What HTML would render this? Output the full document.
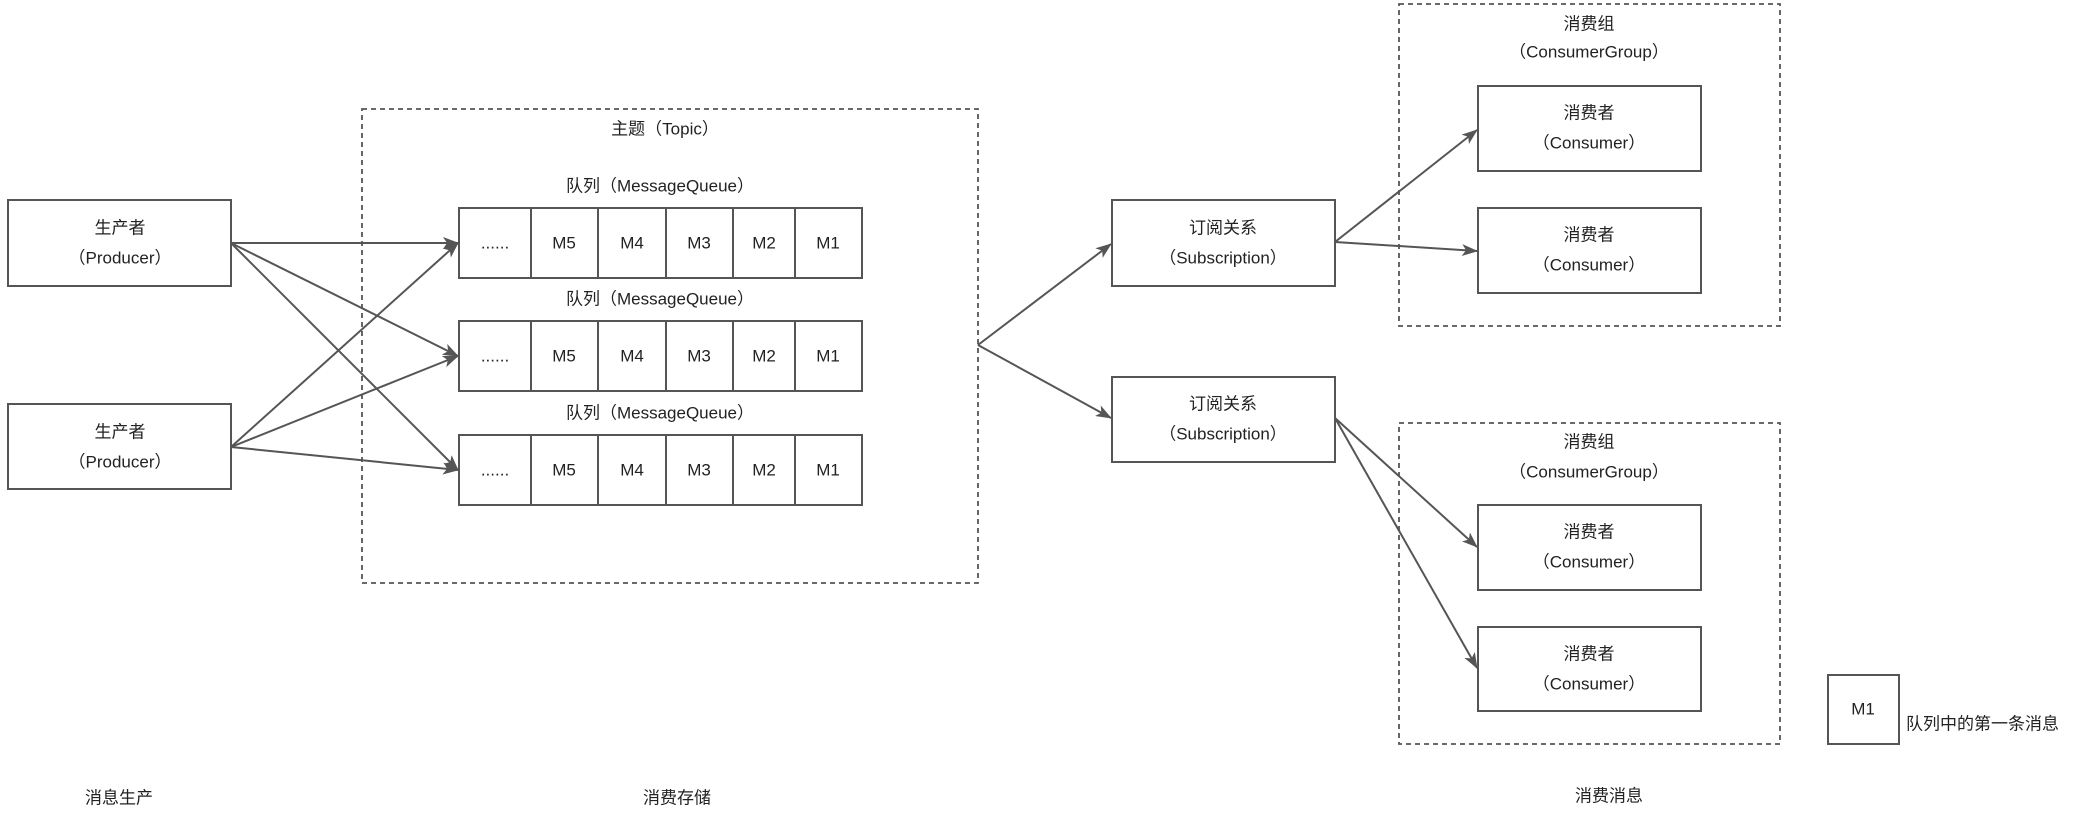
<!DOCTYPE html>
<html><head><meta charset="utf-8"><style>
html,body{margin:0;padding:0;background:#fff;}
svg{display:block;}
text{font-family:"Liberation Sans","Noto Sans CJK SC",sans-serif;font-size:17px;fill:#222;text-anchor:middle;dominant-baseline:central;}
.b{fill:#fff;stroke:#555;stroke-width:2;}
.d{fill:none;stroke:#555;stroke-width:1.8;stroke-dasharray:5,4;}
.l{stroke:#555;stroke-width:2;fill:none;marker-end:url(#a);}
</style></head><body>
<svg width="2080" height="820" viewBox="0 0 2080 820">
<defs><marker id="a" markerWidth="16" markerHeight="12" refX="15" refY="6" orient="auto" markerUnits="userSpaceOnUse"><path d="M0,0 L16,6 L0,12 L4,6 z" fill="#555"/></marker></defs>
<rect class="d" x="362" y="109" width="616" height="474"/>
<text x="665" y="129">主题（Topic）</text>
<rect class="b" x="8" y="200" width="223" height="86"/>
<text x="120" y="228">生产者</text><text x="120" y="258">（Producer）</text>
<rect class="b" x="8" y="404" width="223" height="85"/>
<text x="120" y="432">生产者</text><text x="120" y="462">（Producer）</text>
<g id="q">
<rect class="b" x="459" y="208" width="403" height="70"/>
<line x1="531" y1="208" x2="531" y2="278" stroke="#555" stroke-width="2"/>
<line x1="598" y1="208" x2="598" y2="278" stroke="#555" stroke-width="2"/>
<line x1="666" y1="208" x2="666" y2="278" stroke="#555" stroke-width="2"/>
<line x1="733" y1="208" x2="733" y2="278" stroke="#555" stroke-width="2"/>
<line x1="795" y1="208" x2="795" y2="278" stroke="#555" stroke-width="2"/>
<text x="495" y="243">......</text><text x="564" y="243">M5</text><text x="632" y="243">M4</text><text x="699" y="243">M3</text><text x="764" y="243">M2</text><text x="828" y="243">M1</text>
<text x="660" y="186">队列（MessageQueue）</text>
</g>
<use href="#q" y="113"/>
<use href="#q" y="227"/>
<line class="l" x1="231" y1="243" x2="458" y2="243"/>
<line class="l" x1="231" y1="243" x2="458" y2="356"/>
<line class="l" x1="231" y1="243" x2="458" y2="470"/>
<line class="l" x1="231" y1="447" x2="458" y2="243"/>
<line class="l" x1="231" y1="447" x2="458" y2="356"/>
<line class="l" x1="231" y1="447" x2="458" y2="470"/>
<rect class="b" x="1112" y="200" width="223" height="86"/>
<text x="1223" y="228">订阅关系</text><text x="1223" y="258">（Subscription）</text>
<rect class="b" x="1112" y="377" width="223" height="85"/>
<text x="1223" y="404">订阅关系</text><text x="1223" y="434">（Subscription）</text>
<line class="l" x1="978" y1="345" x2="1111" y2="244"/>
<line class="l" x1="978" y1="345" x2="1111" y2="418"/>
<rect class="d" x="1399" y="4" width="381" height="322"/>
<text x="1589" y="24">消费组</text><text x="1589" y="52">（ConsumerGroup）</text>
<rect class="b" x="1478" y="86" width="223" height="85"/>
<text x="1589" y="113">消费者</text><text x="1589" y="143">（Consumer）</text>
<rect class="b" x="1478" y="208" width="223" height="85"/>
<text x="1589" y="235">消费者</text><text x="1589" y="265">（Consumer）</text>
<rect class="d" x="1399" y="423" width="381" height="321"/>
<text x="1589" y="442">消费组</text><text x="1589" y="472">（ConsumerGroup）</text>
<rect class="b" x="1478" y="505" width="223" height="85"/>
<text x="1589" y="532">消费者</text><text x="1589" y="562">（Consumer）</text>
<rect class="b" x="1478" y="627" width="223" height="84"/>
<text x="1589" y="654">消费者</text><text x="1589" y="684">（Consumer）</text>
<line class="l" x1="1335" y1="242" x2="1477" y2="130"/>
<line class="l" x1="1335" y1="242" x2="1477" y2="251"/>
<line class="l" x1="1335" y1="418" x2="1477" y2="547"/>
<line class="l" x1="1335" y1="418" x2="1477" y2="668"/>
<rect class="b" x="1828" y="675" width="71" height="69"/>
<text x="1863" y="709">M1</text>
<text x="1906" y="724" style="text-anchor:start">队列中的第一条消息</text>
<text x="119" y="798">消息生产</text>
<text x="677" y="798">消费存储</text>
<text x="1609" y="796">消费消息</text>
</svg>
</body></html>
